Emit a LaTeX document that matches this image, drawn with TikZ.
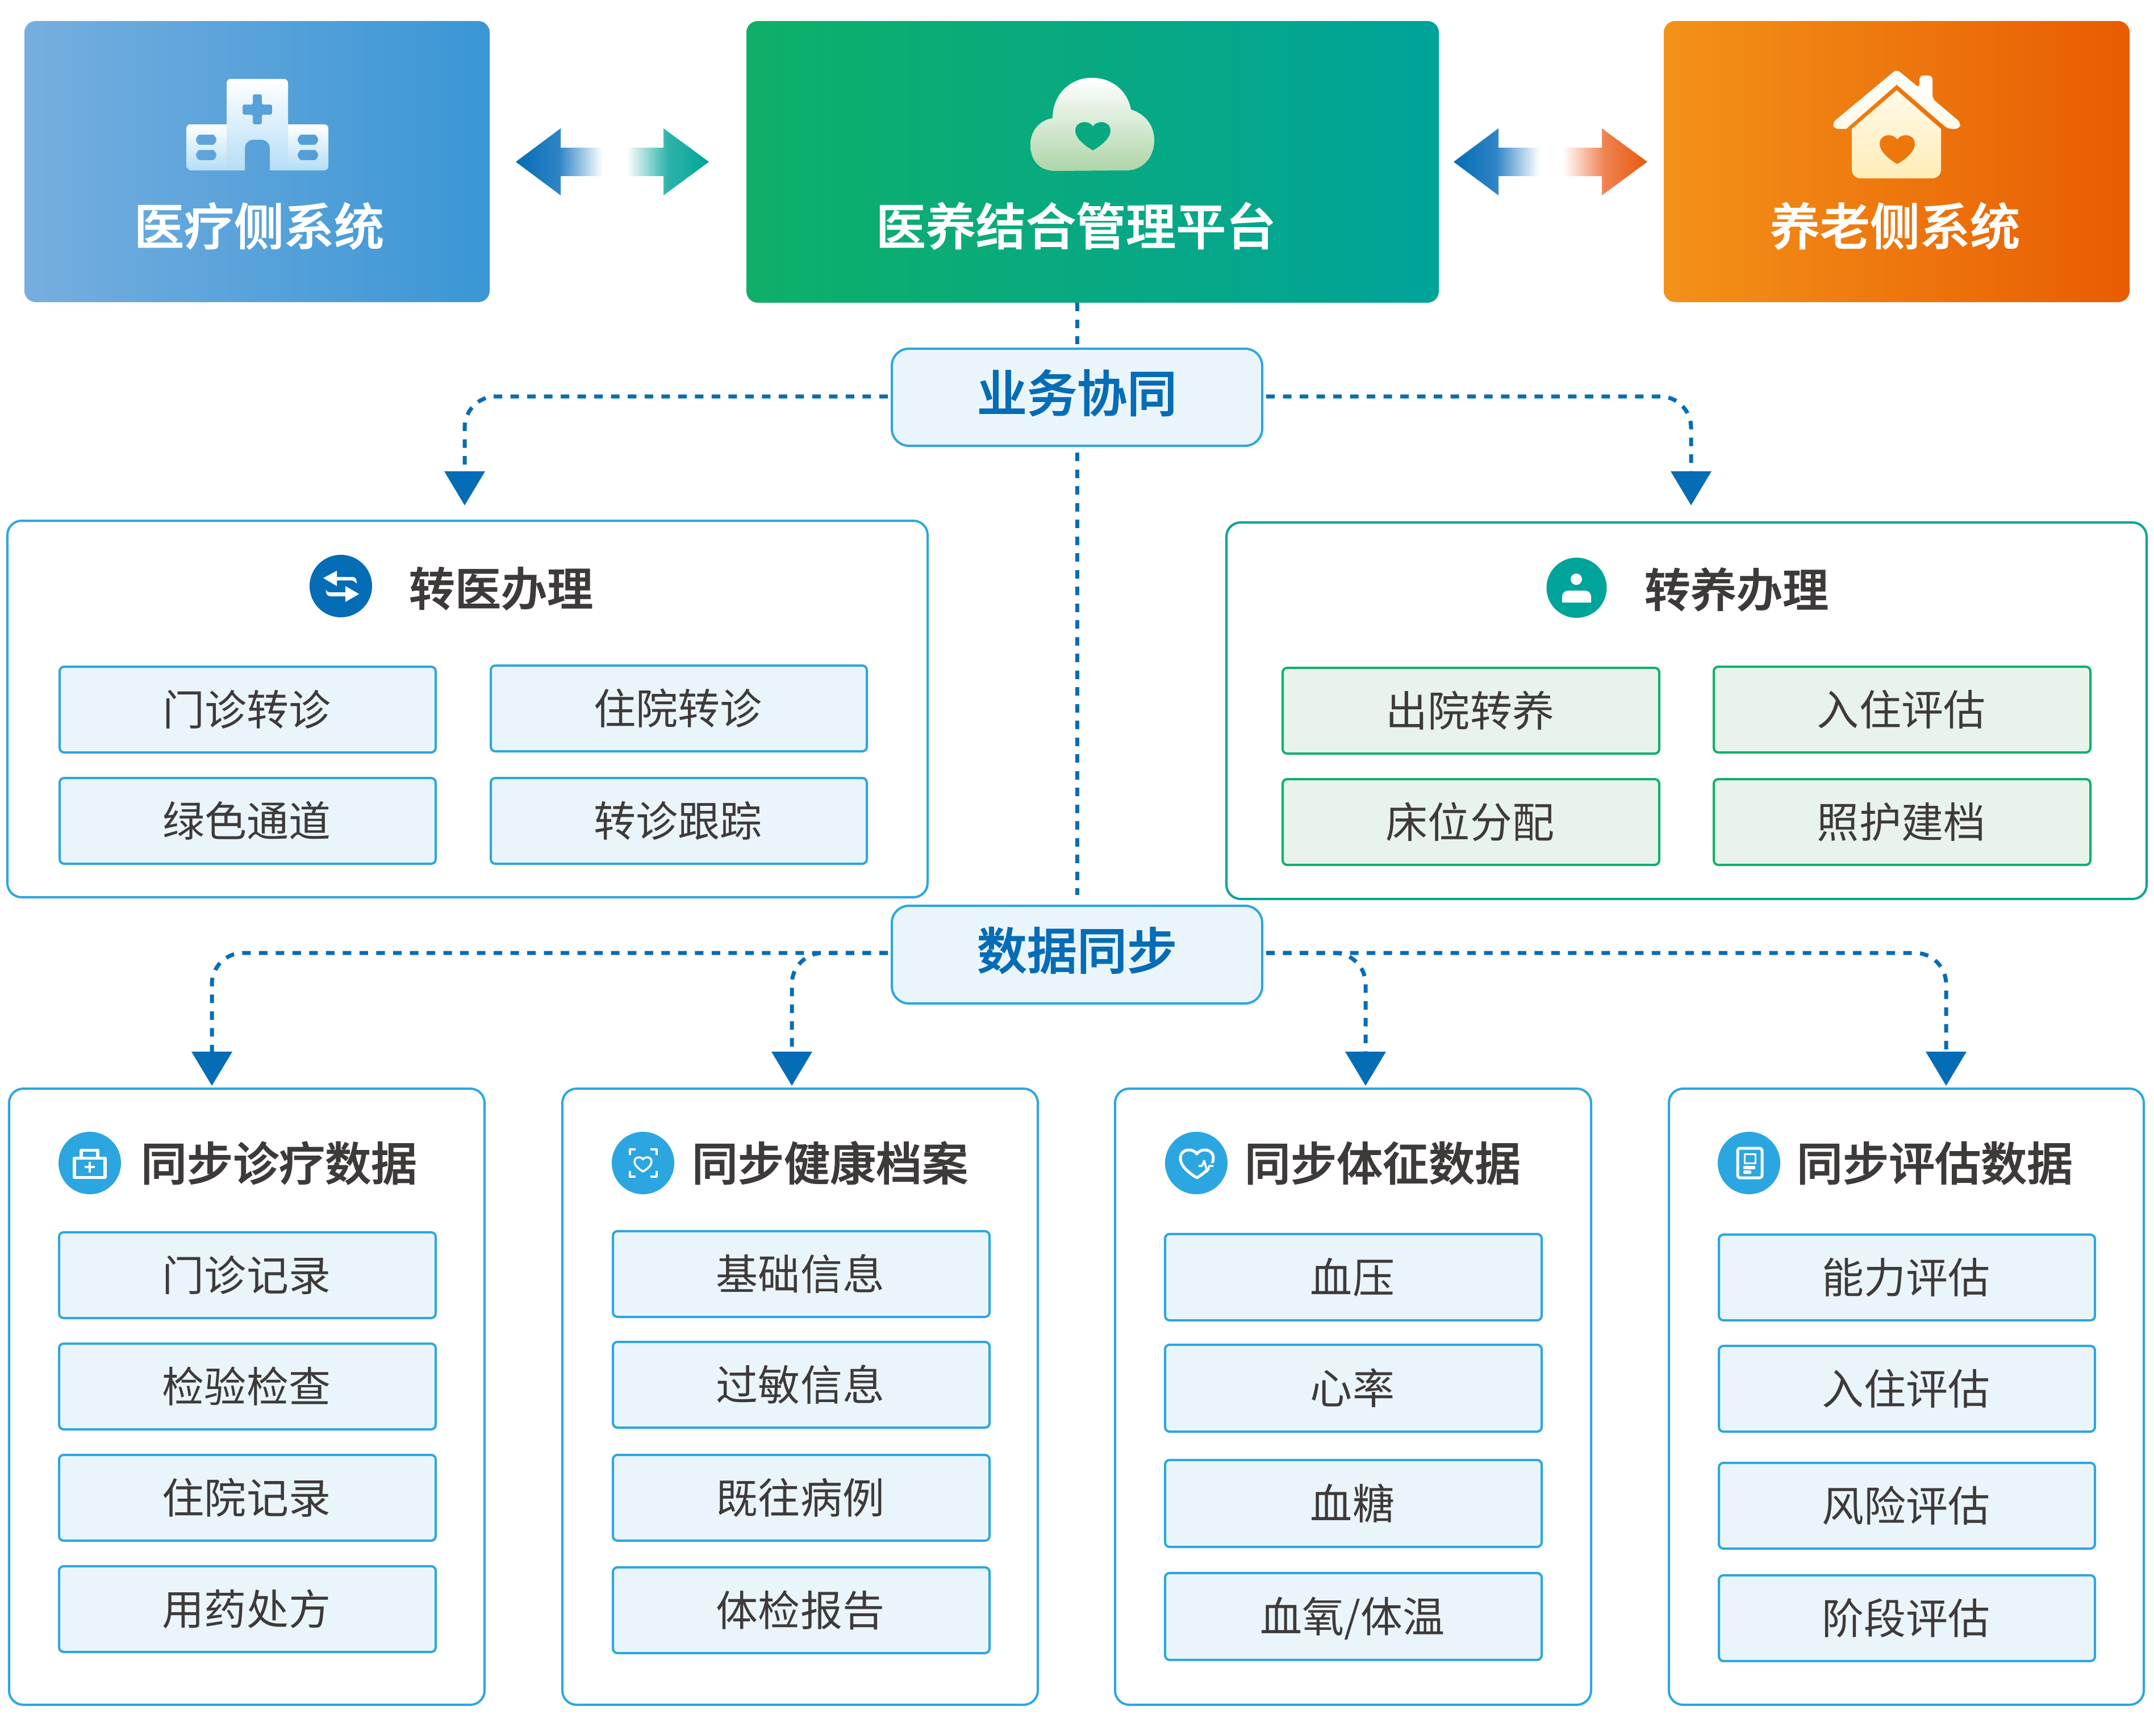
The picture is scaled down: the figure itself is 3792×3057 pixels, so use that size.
\documentclass[tikz,border=0pt]{standalone}
\usepackage{fontspec}
\setmainfont{Noto Sans CJK SC}[BoldFont={Noto Sans CJK SC Medium},BoldFeatures={FakeBold=1.5}]
\usetikzlibrary{arrows.meta,shapes.geometric}
\definecolor{deepblue}{HTML}{056CB6}
\definecolor{skyline}{HTML}{2CA6E0}
\definecolor{paleblue}{HTML}{EAF5FB}
\definecolor{palegreen}{HTML}{E8F3EB}
\definecolor{greenline}{HTML}{10B06C}
\definecolor{tealc}{HTML}{00A49A}
\definecolor{inkc}{HTML}{3E3A39}
\definecolor{orangec}{HTML}{E8590C}
\definecolor{medleft}{HTML}{76AEDF}
\definecolor{medright}{HTML}{3A96D5}
\definecolor{platleft}{HTML}{0FAF68}
\definecolor{platright}{HTML}{00A39A}
\definecolor{careleft}{HTML}{F39219}
\definecolor{careright}{HTML}{E85C02}
\definecolor{hospbot}{HTML}{B5DDF6}
\definecolor{cloudbot}{HTML}{AED5A8}
\definecolor{housebot}{HTML}{FFEDB8}
\definecolor{housetop}{HTML}{FFF9E8}
\definecolor{bluemid}{HTML}{2F85C5}
\definecolor{tealmid}{HTML}{2DB3AA}
\definecolor{orangemid}{HTML}{EF8250}
\tikzset{
  bigtitle/.style={font=\fontsize{25.04}{30}\selectfont\bfseries,text=white,inner sep=0pt,text height=.774cm,text depth=.106cm},
  paneltitle/.style={font=\fontsize{23.05}{28}\selectfont\bfseries,text=inkc,inner sep=0pt,text height=.713cm,text depth=.097cm},
  hubbox/.style={draw=skyline,fill=paleblue,line width=.04cm,rounded corners=.3cm,inner sep=0pt,outer sep=0pt,
    font=\fontsize{25.04}{30}\selectfont\bfseries,text=deepblue,text height=.774cm,text depth=.26cm},
  panelblue/.style={draw=skyline,fill=white,line width=.04cm,rounded corners=.25cm,inner sep=0pt,outer sep=0pt},
  panelteal/.style={panelblue,draw=tealc},
  cellblue/.style={draw=skyline,fill=paleblue,line width=.04cm,rounded corners=.08cm,inner sep=0pt,outer sep=0pt,
    font=\fontsize{21.05}{25}\selectfont,text=inkc,text height=.651cm,text depth=.089cm,
    execute at begin node={\kern-.03cm}},
  cellgreen/.style={cellblue,draw=greenline,fill=palegreen},
  topbox/.style={rounded corners=.2cm,inner sep=0pt,outer sep=0pt,shade},
  flow/.style={draw=deepblue,line width=.07cm,dash pattern=on .15cm off .145cm,rounded corners=.55cm},
  flowtip/.style={-{Triangle[length=.6cm,width=.7cm]}},
  iconline/.style={draw=white,line width=.05cm,line join=round},
  iconfill/.style={fill=white,draw=none},
  iconcircle/.style={circle,inner sep=0pt,outer sep=0pt,draw=none},
}
% boxes whose stroke lies partly inside the measured outer edge
\newcommand{\placebox}[7]{\node[#1,minimum width={(#5-#3-2)*0.01cm},minimum height={(#6-#4-2)*0.01cm}] (#2) at ({(#3+#5)/2},{(#4+#6)/2}) {#7};}
\newcommand{\plainbox}[7]{\node[#1,minimum width={(#5-#3)*0.01cm},minimum height={(#6-#4)*0.01cm}] (#2) at ({(#3+#5)/2},{(#4+#6)/2}) {#7};}
\newcommand{\heartshape}[4]{(#1,{#2+.18*#4}) .. controls ({#1-.2*#3},{#2-.03*#4}) and ({#1-#3},{#2-.03*#4}) .. ({#1-#3},{#2+.33*#4}) .. controls ({#1-#3},{#2+.62*#4}) and ({#1-.35*#3},{#2+.88*#4}) .. (#1,{#2+#4}) .. controls ({#1+.35*#3},{#2+.88*#4}) and ({#1+#3},{#2+.62*#4}) .. ({#1+#3},{#2+.33*#4}) .. controls ({#1+#3},{#2-.03*#4}) and ({#1+.2*#3},{#2-.03*#4}) .. (#1,{#2+.18*#4}) -- cycle}
\begin{document}
\begin{tikzpicture}[x=0.01cm,y=-0.01cm]
\useasboundingbox (0,0) rectangle (3792,3057);
\fill[white] (0,0) rectangle (3792,3057);

% top boxes
\plainbox{topbox,left color=medleft,right color=medright}{med}{43}{37}{862}{532}{}
\plainbox{topbox,left color=platleft,right color=platright}{plat}{1314}{37}{2533}{533}{}
\plainbox{topbox,left color=careleft,right color=careright}{care}{2929}{37}{3749}{532}{}
\node[bigtitle] (medt) at (456,398) {医疗侧系统};
\node[bigtitle] (platt) at (1894,398) {医养结合管理平台};
\node[bigtitle] (caret) at (3336,398) {养老侧系统};

% hospital icon
\shade[top color=white,bottom color=hospbot,even odd rule] (328,294) [rounded corners=.07cm] -- (328,219) [sharp corners] -- (399,219) -- (399,300) -- (334,300) -- cycle
  (350,237) -- (376,237) .. controls (379,240) and (381,243) .. (381,246) .. controls (381,249) and (379,252) .. (376,255) -- (350,255) .. controls (347,252) and (345,249) .. (345,246) .. controls (345,243) and (347,240) .. (350,237) -- cycle
  (350,264) -- (376,264) .. controls (379,267) and (381,270) .. (381,273) .. controls (381,276) and (379,279) .. (376,282) -- (350,282) .. controls (347,279) and (345,276) .. (345,273) .. controls (345,270) and (347,267) .. (350,264) -- cycle;
\shade[top color=white,bottom color=hospbot,even odd rule] (507,300) -- (507,219) [rounded corners=.07cm] -- (578,219) -- (578,300) [sharp corners] -- cycle
  (529,237) -- (555,237) .. controls (558,240) and (560,243) .. (560,246) .. controls (560,249) and (558,252) .. (555,255) -- (529,255) .. controls (526,252) and (524,249) .. (524,246) .. controls (524,243) and (526,240) .. (529,237) -- cycle
  (529,264) -- (555,264) .. controls (558,267) and (560,270) .. (560,273) .. controls (560,276) and (558,279) .. (555,282) -- (529,282) .. controls (526,279) and (524,276) .. (524,273) .. controls (524,270) and (526,267) .. (529,264) -- cycle;
\shade[top color=white,bottom color=hospbot,even odd rule] (399,300) [rounded corners=.07cm] -- (399,139) -- (507,139) [sharp corners] -- (507,300) -- (475,300) [rounded corners=.15cm] -- (475,246) -- (431,246) [sharp corners] -- (431,300) -- cycle
  (445,166) [rounded corners=.03cm] -- (461,166) -- (461,184) -- (479,184) -- (479,202) -- (461,202) -- (461,219) -- (445,219) -- (445,202) -- (427,202) -- (427,184) -- (445,184) -- cycle;

% cloud icon
\shade[top color=white,bottom color=cloudbot,even odd rule] (1858,301) .. controls (1830,301) and (1814,283) .. (1814,255) .. controls (1814,230) and (1830,212) .. (1853,208) .. controls (1853,165) and (1885,137) .. (1922,137) .. controls (1958,137) and (1985,160) .. (1991,193) .. controls (2015,200) and (2032,220) .. (2032,247) .. controls (2032,277) and (2012,300) .. (1983,300) -- cycle
  \heartshape{1924}{213}{31}{52};

% house icon
\shade[top color=white,bottom color=housetop] [rounded corners=.07cm] (3339,122) -- (3379,155) -- (3379,133) -- (3402,133) -- (3402,174) -- (3452,216) -- (3449,227) -- (3429,227) [sharp corners] -- (3339,149) -- (3250,227) [rounded corners=.07cm] -- (3229,227) -- (3226,216) -- cycle;
\shade[top color=housetop,bottom color=housebot,even odd rule] (3339,159) -- (3417,227) [rounded corners=.15cm] -- (3417,314) -- (3260,314) [sharp corners] -- (3260,227) -- cycle
  \heartshape{3340}{236}{31}{53};

% double arrows
\shade[left color=deepblue,right color=white,middle color=bluemid] (908,285) -- (987,226) -- (987,260) -- (1061,260) -- (1061,310) -- (987,310) -- (987,344) -- cycle;
\shade[left color=white,right color=tealc,middle color=tealmid] (1248,285) -- (1168,226) -- (1168,260) -- (1103,260) -- (1103,310) -- (1168,310) -- (1168,344) -- cycle;
\shade[left color=deepblue,right color=white,middle color=bluemid] (2559,285) -- (2638,226) -- (2638,260) -- (2710,260) -- (2710,310) -- (2638,310) -- (2638,344) -- cycle;
\shade[left color=white,right color=orangec,middle color=orangemid] (2900,285) -- (2820,226) -- (2820,260) -- (2751,260) -- (2751,310) -- (2820,310) -- (2820,344) -- cycle;

% hubs
\placebox{hubbox}{collab}{1569}{613}{2223}{786}{业务协同}
\placebox{hubbox}{sync}{1569}{1594}{2223}{1768}{数据同步}

% panels
\placebox{panelblue}{pa}{12}{916}{1634}{1581}{}
\placebox{panelteal}{pb}{2158}{919}{3780}{1584}{}
\placebox{panelblue}{pc}{15}{1916}{854}{3003}{}
\placebox{panelblue}{pd}{989}{1916}{1828}{3003}{}
\placebox{panelblue}{pe}{1962}{1916}{2802}{3003}{}
\placebox{panelblue}{pf}{2937}{1916}{3775}{3003}{}

% connectors
\coordinate (ta) at (818,890);
\coordinate (tb) at (2977,890);
\coordinate (tc) at (373,1912);
\coordinate (td) at (1394,1912);
\coordinate (te) at (2404,1912);
\coordinate (tf) at (3426,1912);
\coordinate (colL) at (1563,698);
\coordinate (colR) at (2229,698);
\coordinate (synL) at (1563,1678);
\coordinate (synR) at (2229,1678);
\draw[flow] (collab.north |- plat.south) -- ([yshift=.08cm]collab.north);
\draw[flow,shorten <=.12cm,shorten >=.19cm] (collab.south) -- (sync.north);
\draw[flow,flowtip] (colL) -| (ta);
\draw[flow,flowtip] (colR) -| (tb);
\draw[flow,flowtip] (synL) -| (tc);
\draw[flow,flowtip] (synL) -| (td);
\draw[flow,flowtip] (synR) -| (te);
\draw[flow,flowtip] (synR) -| (tf);

% transfer panels
\node[iconcircle,fill=deepblue,minimum size=1.1cm] (ia) at (600,1032) {};
\node[paneltitle] (tta) at (882,1036) {转医办理};
\fill[white] (569,1018) -- (593,1005) -- (593,1016) -- (620,1016) .. controls (627,1016) and (628,1021) .. (628,1028) .. controls (625,1024) and (622,1022) .. (616,1022) -- (593,1022) -- (593,1032) -- cycle;
\fill[white] (632,1046) -- (608,1032) -- (608,1043) -- (581,1043) .. controls (577,1043) and (574,1041) .. (574,1037) .. controls (573,1045) and (575,1050) .. (583,1050) -- (608,1050) -- (608,1060) -- cycle;
\node[iconcircle,fill=tealc,minimum size=1.06cm] (ib) at (2775.5,1035) {};
\node[paneltitle] (ttb) at (3057,1038) {转养办理};
\fill[white] (2775,1020) ellipse [x radius=10,y radius=10];
\fill[white] (2750,1061) -- (2750,1052) .. controls (2750,1044) and (2754,1040) .. (2762,1040) -- (2789,1040) .. controls (2797,1040) and (2801,1044) .. (2801,1052) -- (2801,1061) -- cycle;

\placebox{cellblue}{a1}{104}{1173}{768}{1326}{门诊转诊}
\placebox{cellblue}{a2}{863}{1171}{1527}{1324}{住院转诊}
\placebox{cellblue}{a3}{104}{1369}{768}{1522}{绿色通道}
\placebox{cellblue}{a4}{863}{1369}{1527}{1522}{转诊跟踪}
\placebox{cellgreen}{b1}{2257}{1175}{2922}{1328}{出院转养}
\placebox{cellgreen}{b2}{3016}{1173}{3681}{1326}{入住评估}
\placebox{cellgreen}{b3}{2257}{1371}{2922}{1524}{床位分配}
\placebox{cellgreen}{b4}{3016}{1371}{3681}{1524}{照护建档}

% sync panels
\node[iconcircle,fill=skyline,minimum size=1.1cm] (ic) at (158,2048) {};
\node[paneltitle] (ttc) at (491,2048) {同步诊疗数据};
\draw[iconline] (131,2039) rectangle (185,2073);
\draw[iconline] (143,2037) -- (143,2025) -- (172,2025) -- (172,2037);
\draw[white,line width=.035cm] (158,2046) -- (158,2065) (149,2055) -- (167,2055);
\placebox{cellblue}{c1}{103}{2169}{768}{2322}{门诊记录}
\placebox{cellblue}{c2}{103}{2365}{768}{2518}{检验检查}
\placebox{cellblue}{c3}{103}{2561}{768}{2714}{住院记录}
\placebox{cellblue}{c4}{103}{2757}{768}{2910}{用药处方}

\node[iconcircle,fill=skyline,minimum size=1.1cm] (id) at (1132,2048) {};
\node[paneltitle] (ttd) at (1461,2048) {同步健康档案};
\draw[iconline,line width=.04cm] (1109,2034) -- (1109,2024) -- (1119,2024) (1145,2024) -- (1156,2024) -- (1156,2034) (1156,2062) -- (1156,2072) -- (1145,2072) (1119,2072) -- (1109,2072) -- (1109,2062);
\draw[iconline,line width=.035cm] \heartshape{1132}{2037}{15}{26};
\placebox{cellblue}{d1}{1078}{2167}{1743}{2320}{基础信息}
\placebox{cellblue}{d2}{1078}{2362}{1743}{2515}{过敏信息}
\placebox{cellblue}{d3}{1078}{2561}{1743}{2714}{既往病例}
\placebox{cellblue}{d4}{1078}{2759}{1743}{2912}{体检报告}

\node[iconcircle,fill=skyline,minimum size=1.1cm] (ie) at (2106,2048) {};
\node[paneltitle] (tte) at (2434,2048) {同步体征数据};
\draw[iconline] \heartshape{2107}{2023}{29}{51};
\draw[skyline,line width=.1cm] (2116,2053) -- (2138,2053);
\draw[white,line width=.035cm,line join=round] (2110,2053) -- (2116,2053) -- (2120,2044) -- (2125,2063) -- (2129,2053) -- (2136,2053);
\placebox{cellblue}{e1}{2050}{2172}{2715}{2326}{血压}
\placebox{cellblue}{e2}{2050}{2367}{2715}{2522}{心率}
\placebox{cellblue}{e3}{2050}{2570}{2715}{2725}{血糖}
\placebox{cellblue}{e4}{2050}{2769}{2715}{2924}{血氧/体温}

\node[iconcircle,fill=skyline,minimum size=1.1cm] (if) at (3079,2048) {};
\node[paneltitle] (ttf) at (3406,2048) {同步评估数据};
\draw[iconline,rounded corners=.04cm] (3059,2022) rectangle (3102,2074);
\draw[white,line width=.03cm] (3071,2032) rectangle (3090,2048);
\fill[white,rounded corners=.02cm] (3069,2053) rectangle (3090,2059) (3069,2061) rectangle (3083,2067);
\placebox{cellblue}{f1}{3025}{2173}{3689}{2326}{能力评估}
\placebox{cellblue}{f2}{3025}{2369}{3689}{2522}{入住评估}
\placebox{cellblue}{f3}{3025}{2575}{3689}{2728}{风险评估}
\placebox{cellblue}{f4}{3025}{2773}{3689}{2926}{阶段评估}
\end{tikzpicture}
\end{document}
